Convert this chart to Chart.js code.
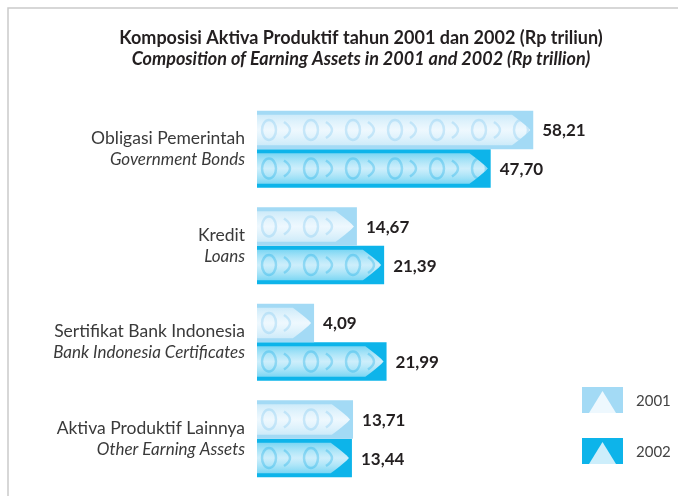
<!DOCTYPE html>
<html>
<head>
<meta charset="utf-8">
<script src="https://cdn.jsdelivr.net/npm/chart.js@4.4.1/dist/chart.umd.min.js"></script>
<style>
  html, body { margin: 0; padding: 0; background: #fff; }
</style>
</head>
<body>
<canvas id="chart" width="678" height="496"></canvas>
<script>
const categoriesId = ['Obligasi Pemerintah', 'Kredit', 'Sertifikat Bank Indonesia', 'Aktiva Produktif Lainnya'];
const categoriesEn = ['Government Bonds', 'Loans', 'Bank Indonesia Certificates', 'Other Earning Assets'];
const seriesLabels = ['2001', '2002'];
const values2001 = [58.21, 14.67, 4.09, 13.71];
const values2002 = [47.70, 21.39, 21.99, 13.44];
const titleLines = [
    'Komposisi Aktiva Produktif tahun 2001 dan 2002 (Rp triliun)',
    'Composition of Earning Assets in 2001 and 2002 (Rp trillion)'
];

const edgeColors = ['#a3daf5', '#0db4ea'];
const innerColors = ['#eef8fe', '#cdeefb'];
const FONT = 'Lato, "Open Sans", sans-serif';

const fmt = v => v.toFixed(2).replace('.', ',');

// lighter ornament band inside each bar, with a pointed right end
function drawBand(ctx, left, right, cy, h, di) {
    const top = cy - h / 2 + 4;
    const bot = cy + h / 2 - 4;
    const tip = Math.max(left + 2, right - h * 0.55);
    ctx.save();
    ctx.beginPath();
    ctx.moveTo(left, top);
    ctx.lineTo(tip, top);
    ctx.quadraticCurveTo(right - 6, cy - 4, right - 3, cy);
    ctx.quadraticCurveTo(right - 6, cy + 4, tip, bot);
    ctx.lineTo(left, bot);
    ctx.closePath();
    const g = ctx.createLinearGradient(0, top, 0, bot);
    g.addColorStop(0, 'rgba(255,255,255,0.45)');
    g.addColorStop(0.5, innerColors[di]);
    g.addColorStop(1, 'rgba(255,255,255,0.45)');
    ctx.fillStyle = g;
    ctx.fill();
    ctx.clip();
    // soft chain-like ornaments
    ctx.strokeStyle = di === 0 ? 'rgba(130,200,240,0.35)' : 'rgba(20,170,230,0.32)';
    ctx.lineWidth = 2.5;
    let k = 0;
    for (let x = left + 12; x < right - 10; x += 21, k++) {
        ctx.beginPath();
        if (k % 2 === 0) {
            ctx.ellipse(x, cy, 7, 10, 0, 0, Math.PI * 2);
        } else {
            ctx.moveTo(x - 6, cy - 8);
            ctx.quadraticCurveTo(x + 6, cy, x - 6, cy + 8);
        }
        ctx.stroke();
    }
    ctx.restore();
}

const decorPlugin = {
    id: 'decor',
    afterDatasetsDraw(chart) {
        const { ctx } = chart;
        chart.data.datasets.forEach((ds, di) => {
            chart.getDatasetMeta(di).data.forEach(bar => {
                drawBand(ctx, bar.base, bar.x, bar.y, bar.height, di);
            });
        });
    },
    afterDraw(chart) {
        const { ctx } = chart;
        ctx.save();

        // frame
        ctx.strokeStyle = '#cacaca';
        ctx.lineWidth = 1.5;
        ctx.beginPath();
        ctx.moveTo(8, 496);
        ctx.lineTo(8, 8);
        ctx.lineTo(678, 8);
        ctx.stroke();

        // title
        ctx.fillStyle = '#231f20';
        ctx.textAlign = 'center';
        ctx.textBaseline = 'middle';
        ctx.font = 'bold 18px ' + FONT;
        ctx.fillText(titleLines[0], 361, 38);
        ctx.font = 'italic bold 18px ' + FONT;
        ctx.fillText(titleLines[1], 361, 59);

        // category labels
        const yScale = chart.scales.y;
        ctx.textAlign = 'right';
        ctx.fillStyle = '#3a3a3a';
        categoriesId.forEach((c, i) => {
            const cy = yScale.getPixelForValue(i);
            ctx.font = '17.5px ' + FONT;
            ctx.fillText(c, 245, cy - 10.5);
            ctx.font = 'italic 17px ' + FONT;
            ctx.fillText(categoriesEn[i], 245, cy + 10.5);
        });

        // value labels
        ctx.textAlign = 'left';
        ctx.fillStyle = '#231f20';
        ctx.font = 'bold 17px ' + FONT;
        chart.data.datasets.forEach((ds, di) => {
            chart.getDatasetMeta(di).data.forEach((bar, i) => {
                ctx.fillText(fmt(ds.data[i]), bar.x + 9, bar.y + 1);
            });
        });

        // legend
        seriesLabels.forEach((s, i) => {
            const x = 582, y = 387 + i * 51, w = 41, h = 26;
            ctx.fillStyle = edgeColors[i];
            ctx.fillRect(x, y, w, h);
            ctx.beginPath();
            ctx.moveTo(x + 7, y + h);
            ctx.lineTo(x + w / 2, y + 4);
            ctx.lineTo(x + w - 7, y + h);
            ctx.closePath();
            ctx.fillStyle = innerColors[i];
            ctx.fill();
            ctx.fillStyle = '#444';
            ctx.font = '15px ' + FONT;
            ctx.textAlign = 'left';
            ctx.fillText(s, 636, y + h / 2 + 1);
        });

        ctx.restore();
    }
};

new Chart(document.getElementById('chart'), {
    type: 'bar',
    data: {
        labels: categoriesId,
        datasets: [
            {
                label: seriesLabels[0],
                data: values2001,
                backgroundColor: edgeColors[0],
                base: -10,
                barPercentage: 1,
                categoryPercentage: 0.8
            },
            {
                label: seriesLabels[1],
                data: values2002,
                backgroundColor: edgeColors[1],
                base: -10,
                barPercentage: 1,
                categoryPercentage: 0.8
            }
        ]
    },
    options: {
        indexAxis: 'y',
        responsive: false,
        animation: false,
        layout: {
            padding: { left: 257, right: 97, top: 101, bottom: 9 }
        },
        plugins: {
            legend: { display: false },
            tooltip: { enabled: false },
            title: { display: false }
        },
        scales: {
            x: { display: false, min: -10, max: 70 },
            y: { display: false }
        }
    },
    plugins: [decorPlugin]
});
</script>
</body>
</html>
